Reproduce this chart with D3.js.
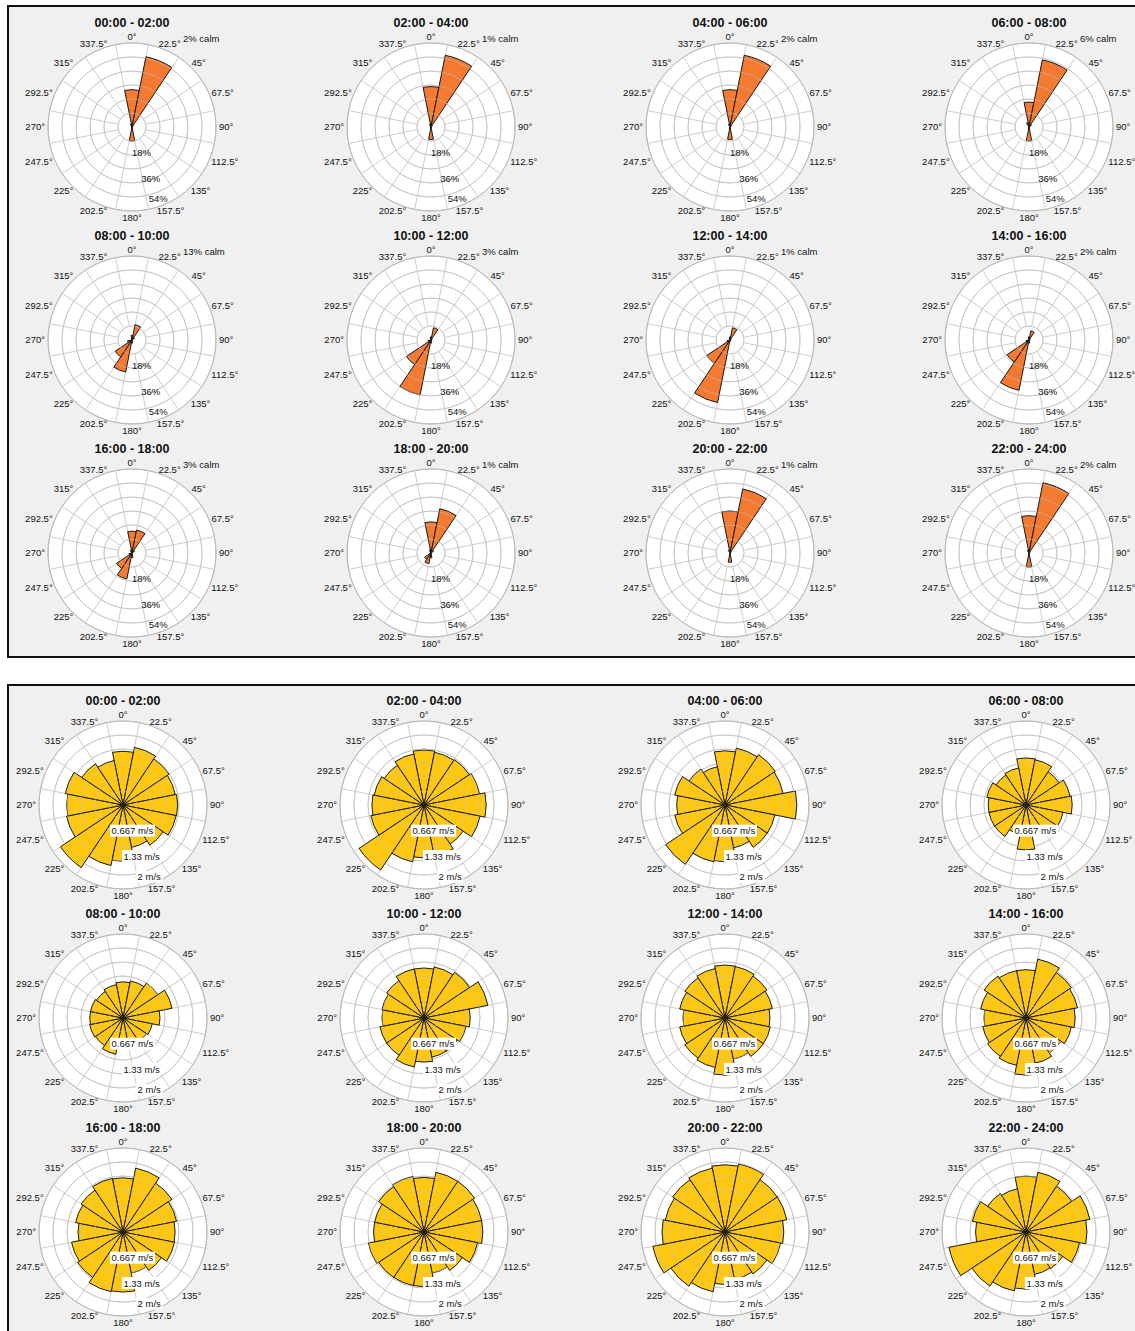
<!DOCTYPE html>
<html>
<head>
<meta charset="utf-8">
<script src="https://cdn.jsdelivr.net/npm/d3@7"></script>
<style>
  body { margin: 0; background: #ffffff; }
  svg text { font-family: "Liberation Sans", Arial, sans-serif; fill: #111; }
</style>
</head>
<body>
<svg id="chart" width="1135" height="1331"></svg>
<script>
// Sixteen compass sectors, 22.5° wide, labelled by their centre bearing
const directions = d3.range(16).map(i => i * 22.5);

const periods = [
  "00:00 - 02:00", "02:00 - 04:00", "04:00 - 06:00", "06:00 - 08:00",
  "08:00 - 10:00", "10:00 - 12:00", "12:00 - 14:00", "14:00 - 16:00",
  "16:00 - 18:00", "18:00 - 20:00", "20:00 - 22:00", "22:00 - 24:00"
];

// Share of calm hours in each period (%)
const calmPct = [2, 1, 2, 6, 13, 3, 1, 2, 3, 1, 1, 2];

// Direction frequency per period (%), ordered 0°, 22.5°, ... 337.5°
const freqPct = [
  [24, 46, 1, 0, 0, 0, 0, 0, 9, 1, 0, 0, 0, 0, 0, 2],
  [26, 47, 1, 0, 0, 0, 0, 0, 8, 1, 0, 0, 0, 0, 0, 2],
  [24, 47, 1, 0, 0, 0, 0, 0, 8, 1, 0, 0, 0, 0, 0, 2],
  [16, 44, 2, 0, 0, 0, 0, 0, 9, 1, 0, 0, 0, 0, 0, 3],
  [3, 10, 2, 0, 0, 0, 0, 0, 2, 21, 13, 3, 0, 0, 0, 1],
  [2, 8, 1, 0, 0, 0, 0, 0, 2, 36, 19, 2, 0, 0, 0, 1],
  [2, 8, 1, 0, 0, 0, 0, 0, 1, 41, 18, 2, 0, 0, 0, 1],
  [2, 6, 1, 0, 0, 0, 0, 0, 2, 33, 17, 2, 0, 0, 0, 1],
  [14, 15, 2, 0, 0, 0, 0, 0, 3, 17, 12, 2, 0, 0, 0, 2],
  [20, 29, 2, 0, 0, 0, 0, 0, 3, 7, 5, 1, 0, 0, 0, 2],
  [27, 42, 1, 0, 0, 0, 0, 0, 6, 1, 0, 0, 0, 0, 0, 2],
  [24, 46, 1, 0, 0, 0, 0, 0, 9, 1, 0, 0, 0, 0, 0, 2]
];

// Mean wind speed per direction and period (m/s)
const meanSpeed = [
  [1.28, 1.40, 1.32, 1.27, 1.30, 1.29, 1.15, 1.03, 1.34, 1.47, 1.79, 1.37, 1.34, 1.40, 1.18, 1.08],
  [1.31, 1.28, 1.30, 1.35, 1.48, 1.36, 1.12, 1.25, 1.26, 1.38, 1.86, 1.29, 1.24, 1.21, 1.14, 1.24],
  [1.29, 1.38, 1.44, 1.41, 1.71, 1.21, 1.21, 1.04, 1.35, 1.38, 1.70, 1.22, 1.15, 1.22, 1.03, 0.93],
  [1.12, 1.10, 0.95, 1.07, 1.10, 0.90, 0.83, 0.71, 1.07, 0.71, 0.90, 0.90, 0.90, 0.95, 0.86, 0.90],
  [0.86, 0.90, 1.00, 1.19, 0.88, 0.71, 0.67, 0.60, 0.64, 0.88, 0.79, 0.81, 0.79, 0.79, 0.76, 0.81],
  [1.19, 1.24, 1.31, 1.55, 1.10, 1.02, 0.95, 0.95, 1.05, 1.19, 1.07, 1.07, 1.00, 1.02, 1.07, 1.19],
  [1.26, 1.25, 1.20, 1.15, 1.07, 1.10, 1.10, 1.00, 1.36, 1.20, 1.15, 1.10, 1.00, 1.10, 1.15, 1.20],
  [1.15, 1.43, 1.30, 1.25, 1.17, 1.10, 1.00, 1.10, 1.36, 1.15, 1.10, 1.05, 1.00, 1.10, 1.20, 1.15],
  [1.29, 1.55, 1.40, 1.30, 1.24, 1.25, 1.10, 1.00, 1.43, 1.45, 1.30, 1.25, 1.07, 1.15, 1.20, 1.30],
  [1.30, 1.45, 1.45, 1.40, 1.40, 1.30, 1.10, 1.00, 1.30, 1.30, 1.30, 1.35, 1.20, 1.20, 1.30, 1.35],
  [1.60, 1.65, 1.50, 1.50, 1.40, 1.35, 1.20, 1.15, 1.25, 1.45, 1.55, 1.75, 1.50, 1.45, 1.50, 1.55],
  [1.33, 1.45, 1.31, 1.55, 1.45, 1.30, 1.05, 1.03, 1.36, 1.43, 1.55, 1.87, 1.20, 1.30, 1.10, 1.05]
];

// Radial axis ticks
const freqTicks = [18, 36, 54];
const freqTickLabels = ["18%", "36%", "54%"];
const speedTicks = [0.667, 1.333, 2];
const speedTickLabels = ["0.667 m/s", "1.33 m/s", "2 m/s"];

const svg = d3.select("#chart");
const R = 84;                 // outer radius of each rose
const nRings = 6;             // grid circles
const rad = d => d * Math.PI / 180;
const labelSize = 9.5;

const freqScale = d3.scaleLinear().domain([0, 54]).range([0, R]);
const speedScale = d3.scaleLinear().domain([0, 2]).range([0, R]);

// Two framed panels
svg.append("rect").attr("x", 8).attr("y", 6).attr("width", 1140).attr("height", 651)
  .attr("fill", "#f0f0f0").attr("stroke", "#111").attr("stroke-width", 2);
svg.append("rect").attr("x", 8).attr("y", 685).attr("width", 1140).attr("height", 660)
  .attr("fill", "#f0f0f0").attr("stroke", "#111").attr("stroke-width", 2);

const topCols = [132, 431, 730, 1029], topRows = [127, 340, 553];
const botCols = [123, 424, 725, 1026], botRows = [805, 1018, 1232];

const arc = d3.arc();

function drawRose(cx, cy, title, values, scale, color, ticks, tickLabels, boxed, calm) {
  const g = svg.append("g").attr("transform", `translate(${cx},${cy})`);

  // Grid: disk, rings, sector boundaries
  g.append("circle").attr("r", R).attr("fill", "#ffffff");
  const ringR = d3.range(1, nRings + 1).map(i => R * i / nRings);
  g.selectAll("circle.ring").data(ringR).join("circle").attr("class", "ring")
    .attr("r", d => d).attr("fill", "none").attr("stroke", "#cdcdcd").attr("stroke-width", 1);
  const bounds = directions.map(d => d + 11.25);
  g.selectAll("line.spoke").data(bounds).join("line").attr("class", "spoke")
    .attr("x1", d => ringR[0] * Math.sin(rad(d))).attr("y1", d => -ringR[0] * Math.cos(rad(d)))
    .attr("x2", d => R * Math.sin(rad(d))).attr("y2", d => -R * Math.cos(rad(d)))
    .attr("stroke", "#cdcdcd").attr("stroke-width", 1);

  // Sector wedges
  g.selectAll("path.wedge").data(values.map((v, i) => ({ v, dir: directions[i] })).filter(d => d.v > 0))
    .join("path").attr("class", "wedge")
    .attr("d", d => arc({ innerRadius: 0, outerRadius: scale(d.v),
                          startAngle: rad(d.dir - 11.25), endAngle: rad(d.dir + 11.25) }))
    .attr("fill", color).attr("stroke", "#1a1a1a").attr("stroke-width", 1)
    .attr("stroke-linejoin", "miter");

  // Rings remain faintly visible through the wedges
  g.selectAll("circle.ringTop").data(ringR.slice(0, -1)).join("circle").attr("class", "ringTop")
    .attr("r", d => d).attr("fill", "none").attr("stroke", "#bdbdbd")
    .attr("stroke-width", 1).attr("opacity", 0.55);
  g.append("circle").attr("r", R).attr("fill", "none").attr("stroke", "#b8b8b8").attr("stroke-width", 1);

  // Compass labels outside the disk
  directions.forEach(d => {
    const s = Math.sin(rad(d)), c = Math.cos(rad(d));
    const t = g.append("text").attr("font-size", labelSize).attr("text-anchor", "middle")
      .attr("dy", "0.35em").text(`${d}°`);
    const w = t.node().getComputedTextLength();
    const r0 = 87;
    t.attr("x", r0 * s + (w / 2) * s).attr("y", -r0 * c - 3.5 * c);
  });

  // Radial tick labels along the 160° bearing
  const labR = [27.5, 54.5, 76.5];
  ticks.forEach((tv, i) => {
    const a = rad(160);
    const x = labR[i] * Math.sin(a), y = -labR[i] * Math.cos(a);
    const t = g.append("text").attr("font-size", labelSize).attr("text-anchor", "middle")
      .attr("x", x).attr("y", y).attr("dy", "0.35em").text(tickLabels[i]);
    if (boxed) {
      const bb = t.node().getBBox();
      g.insert("rect", () => t.node())
        .attr("x", bb.x - 1.5).attr("y", bb.y - 0.5)
        .attr("width", bb.width + 3).attr("height", bb.height + 1)
        .attr("fill", "#ffffff");
    }
  });

  if (calm !== undefined) {
    g.append("text").attr("font-size", labelSize).attr("x", 51).attr("y", -85).text(`${calm}% calm`);
  }

  g.append("text").attr("font-size", 12.5).attr("font-weight", "bold")
    .attr("text-anchor", "middle").attr("y", -100.5).text(title);
}

periods.forEach((p, i) => {
  const col = i % 4, row = Math.floor(i / 4);
  drawRose(topCols[col], topRows[row], p, freqPct[i], freqScale, "#f47a31",
           freqTicks, freqTickLabels, false, calmPct[i]);
  drawRose(botCols[col], botRows[row], p, meanSpeed[i], speedScale, "#fec812",
           speedTicks, speedTickLabels, true);
});
</script>
</body>
</html>
